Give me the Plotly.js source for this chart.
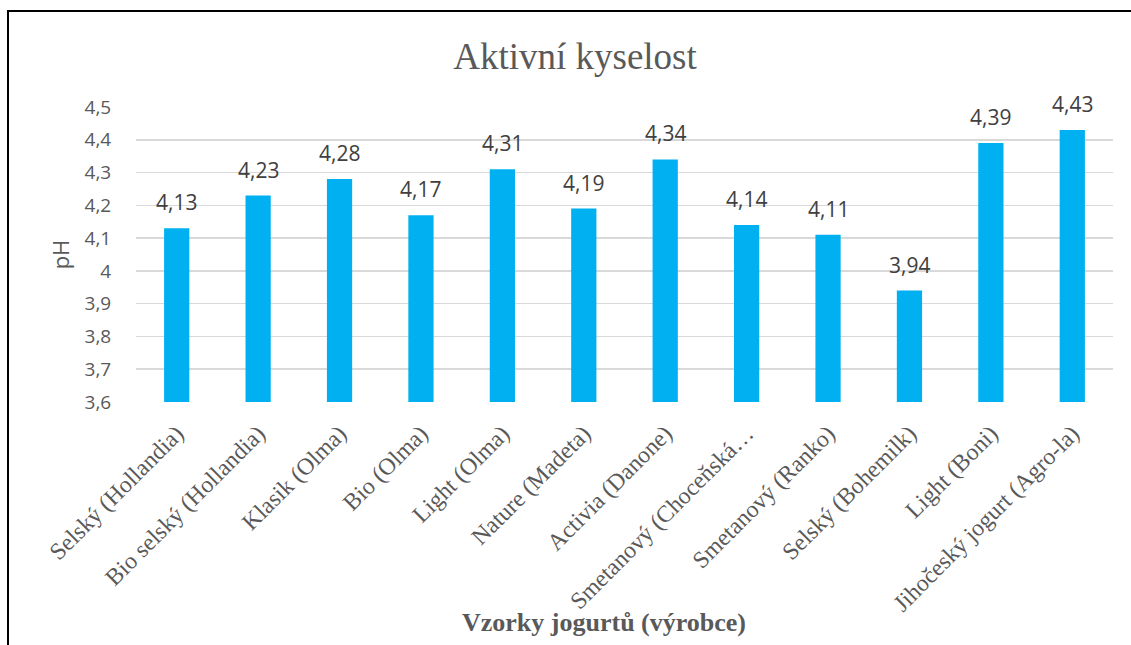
<!DOCTYPE html>
<html>
<head>
<meta charset="utf-8">
<script src="https://cdn.plot.ly/plotly-3.0.1.min.js"></script>
<style>
  html, body { margin: 0; padding: 0; background: #fff; }
  #chart { width: 1131px; height: 645px; }
  #frame { position: absolute; left: 7px; top: 10px; width: 1200px; height: 700px;
           border-left: 2px solid #000; border-top: 2px solid #000; pointer-events: none; }
</style>
</head>
<body>
<div id="chart"></div>
<div id="frame"></div>
<script>
// ---- data ----
const categories = [
  "Selský (Hollandia)",
  "Bio selský (Hollandia)",
  "Klasik (Olma)",
  "Bio (Olma)",
  "Light (Olma)",
  "Nature (Madeta)",
  "Activia (Danone)",
  "Smetanový (Choceňská…",
  "Smetanový (Ranko)",
  "Selský (Bohemilk)",
  "Light (Boni)",
  "Jihočeský jogurt (Agro-la)"
];
const phValues = [4.13, 4.23, 4.28, 4.17, 4.31, 4.19, 4.34, 4.14, 4.11, 3.94, 4.39, 4.43];
const yTickVals = [3.6, 3.7, 3.8, 3.9, 4.0, 4.1, 4.2, 4.3, 4.4, 4.5];
const yTickText = ["3,6", "3,7", "3,8", "3,9", "4", "4,1", "4,2", "4,3", "4,4", "4,5"];

const chartTitle = "Aktivní kyselost";
const xTitle = "Vzorky jogurtů (výrobce)";
const yTitle = "pH";

// ---- chart ----
const fmt = v => v.toFixed(2).replace('.', ',');

const trace = {
  type: 'bar',
  x: categories,
  y: phValues,
  marker: { color: '#00B0F0' },
  hoverinfo: 'x+y'
};

const annotations = categories.map((c, i) => ({
  x: c, y: phValues[i], xref: 'x', yref: 'y',
  text: fmt(phValues[i]), showarrow: false,
  yanchor: 'middle', yshift: 26,
  font: { family: 'Open Sans, sans-serif', size: 21, color: '#404040' }
}));

// x axis title, placed as in the reference (slightly left of the plot centre)
annotations.push({
  text: '<b>' + xTitle + '</b>',
  xref: 'paper', yref: 'paper',
  x: (604 - 136) / 977, y: -(622 - 402) / 294,
  xanchor: 'center', yanchor: 'middle', showarrow: false,
  font: { family: 'Liberation Serif, Times New Roman, serif', size: 26, color: '#595959' }
});

const layout = {
  width: 1131, height: 645,
  margin: { l: 136, r: 18, t: 107, b: 243 },
  paper_bgcolor: '#ffffff', plot_bgcolor: '#ffffff',
  separators: ', ',
  bargap: 0.69,
  showlegend: false,
  title: {
    text: chartTitle,
    xref: 'container', yref: 'container',
    x: 0.5084, y: 0.913, xanchor: 'center', yanchor: 'middle',
    font: { family: 'Liberation Serif, Times New Roman, serif', size: 37, color: '#595959' }
  },
  xaxis: {
    type: 'category',
    tickangle: -45,
    tickfont: { family: 'Liberation Serif, Times New Roman, serif', size: 23.7, color: '#595959' },
    showgrid: false, showline: false, zeroline: false,
    ticks: '', ticklabelstandoff: 12
  },
  yaxis: {
    range: [3.6, 4.5],
    tickmode: 'array', tickvals: yTickVals, ticktext: yTickText,
    tickfont: { family: 'Open Sans, sans-serif', size: 19, color: '#595959' },
    ticks: 'outside', ticklen: 20, tickcolor: 'rgba(0,0,0,0)',
    showgrid: true, gridcolor: '#d9d9d9', gridwidth: 1.5,
    zeroline: false, showline: false,
    title: {
      text: yTitle, standoff: 8,
      font: { family: 'Open Sans, sans-serif', size: 22, color: '#595959' }
    }
  },
  annotations: annotations
};

Plotly.newPlot('chart', [trace], layout, { displayModeBar: false, staticPlot: true });
</script>
</body>
</html>
